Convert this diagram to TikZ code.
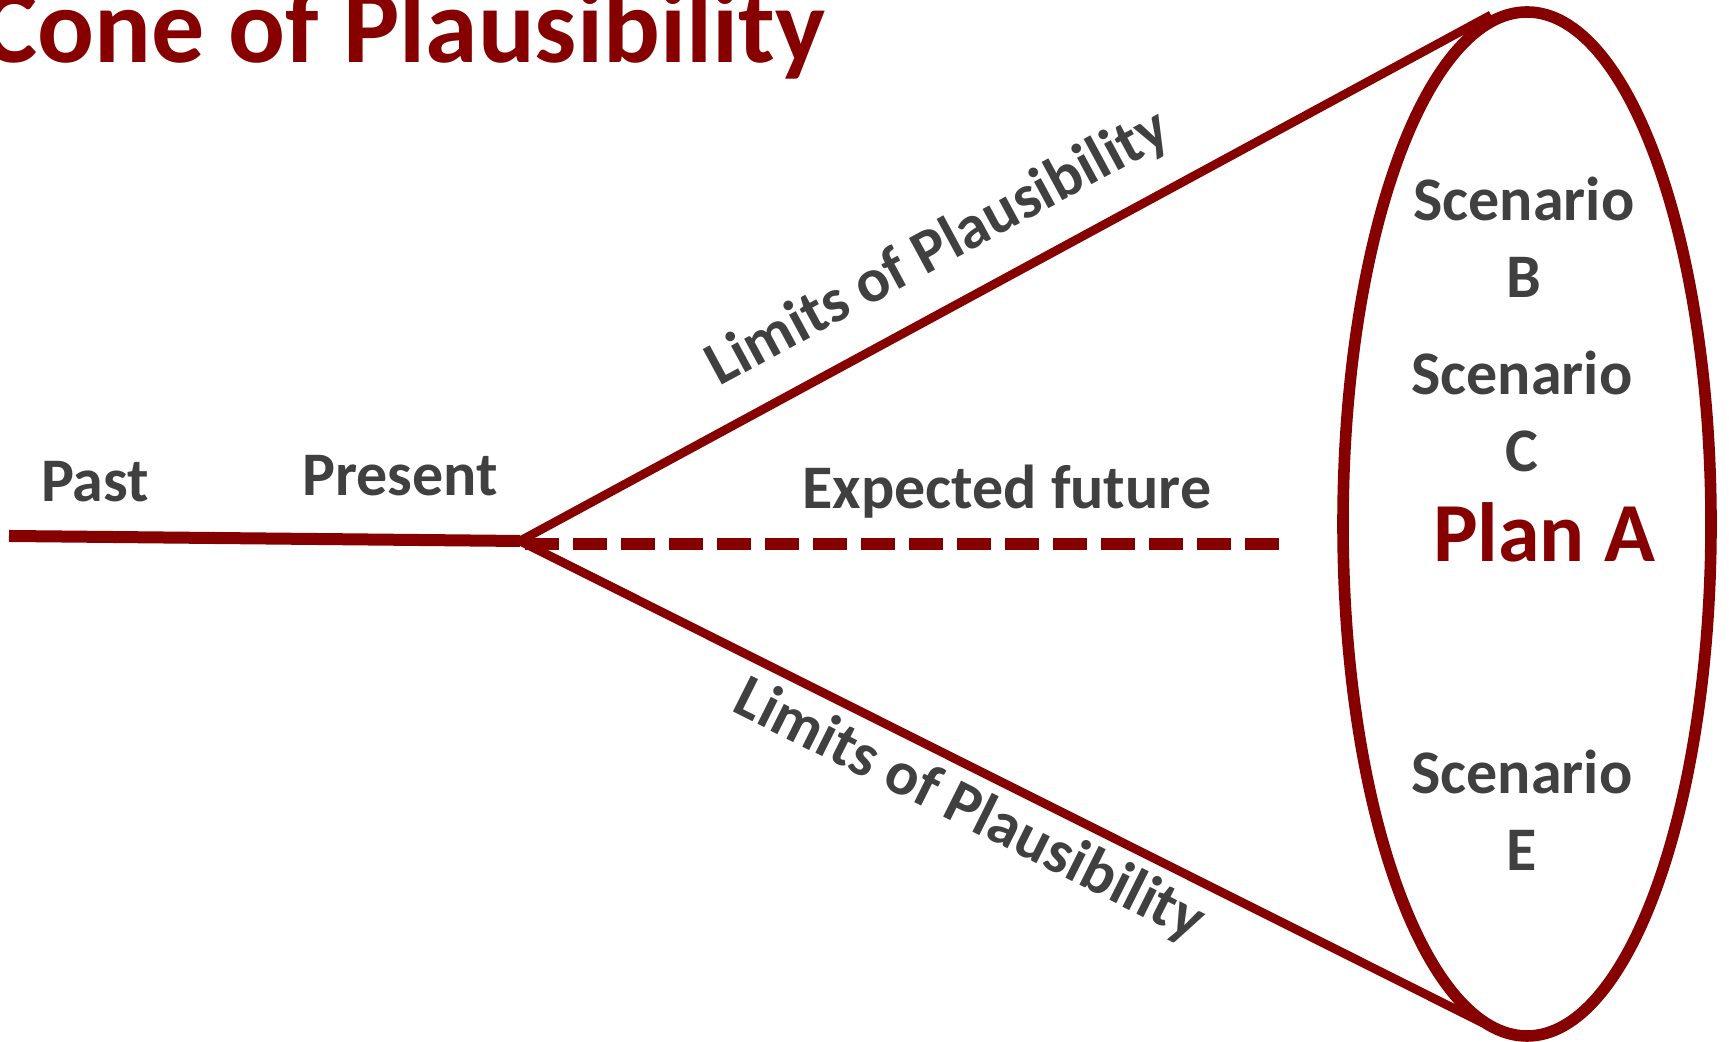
\documentclass[tikz,border=0pt]{standalone}
\usepackage{fontspec}
\setmainfont{Carlito}
\usetikzlibrary{positioning}

\definecolor{conered}{RGB}{134,0,0}
\definecolor{labelgray}{RGB}{64,64,64}

\begin{document}
\begin{tikzpicture}[x=0.5pt, y=0.5pt,
  coneline/.style={conered, line width=4.4pt},
  timeline/.style={conered, line width=6pt},
  label/.style={labelgray, font=\fontsize{31}{38.5}\selectfont\bfseries, inner sep=0pt},
  limit/.style={label, sloped}]
\useasboundingbox (0,0) rectangle (1729,1042);

\node[anchor=base west, inner sep=0pt, text=conered, font=\fontsize{53}{60}\selectfont\bfseries] (title) at (-19,979) {Cone of Plausibility};

\coordinate (pastend) at (9,506);
\coordinate (now) at (520,501);
\coordinate (topend) at (1491,1027);
\coordinate (botend) at (1483,19);
\coordinate (futstart) at (525,498);
\coordinate (futend) at (1279,498);

\draw[timeline] (pastend) -- (now);
\draw[timeline, dash pattern=on 17pt off 7pt] (futstart) -- (futend);
\draw[coneline] (now) -- node[limit, pos=0.459, above=13.2pt] (limup) {Limits of Plausibility} (topend);
\draw[coneline] (now) -- node[limit, pos=0.485, below=4.7pt] (limdown) {Limits of Plausibility} (botend);

\draw[conered, line width=5.8pt] (1527,518) ellipse [x radius=92pt, y radius=256pt];

\node[label, anchor=base] (past) at (95,540) {Past};
\node[label, anchor=base] (present) at (400,546) {Present};
\node[label, anchor=base] (future) at (1007,533) {Expected future};

% base of a two-line node sits on its last line
\node[label, anchor=base, align=center] (scenB) at (1524,744) {Scenario\\B};
\node[label, anchor=base, align=center] (scenC) at (1522,570) {Scenario\\C};
\node[label, anchor=base, align=center] (scenE) at (1522,171) {Scenario\\E};
\node[anchor=base, inner sep=0pt, text=conered, font=\fontsize{42}{50}\selectfont\bfseries] (plan) at (1544,480) {Plan A};
\end{tikzpicture}
\end{document}
